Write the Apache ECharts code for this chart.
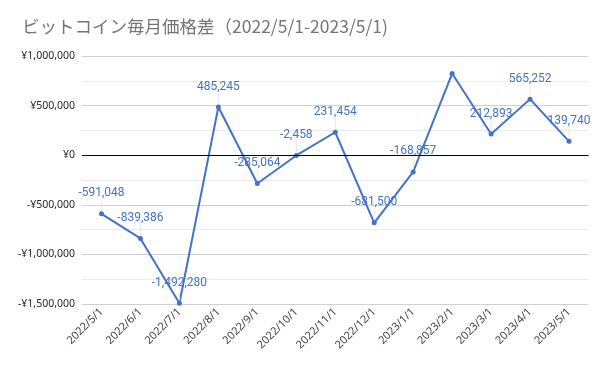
<!DOCTYPE html>
<html><head><meta charset="utf-8">
<script src="https://cdn.jsdelivr.net/npm/echarts@6/dist/echarts.min.js"></script>
<style>html,body{margin:0;padding:0;background:#fff}#c{width:607px;height:371px}</style>
</head><body><div id="c"></div>
<script>
var categories = ['2022/5/1','2022/6/1','2022/7/1','2022/8/1','2022/9/1','2022/10/1','2022/11/1','2022/12/1','2023/1/1','2023/2/1','2023/3/1','2023/4/1','2023/5/1'];
var values = [-591048, -839386, -1492280, 485245, -285064, -2458, 231454, -681500, -168857, 823000, 212893, 565252, 139740];
var hiddenLabels = [9];
var yTicks = {min: -1500000, max: 1000000, interval: 500000};

function fmtYen(v){
  var s = Math.abs(v).toLocaleString('en-US');
  return (v < 0 ? '-' : '') + '¥' + s;
}
var data = values.map(function(v, i){
  var d = {value: v};
  if (hiddenLabels.indexOf(i) >= 0) d.label = {show: false};
  return d;
});
var chart = echarts.init(document.getElementById('c'));
chart.setOption({
  animation: false,
  title: {
    text: 'ビットコイン毎月価格差（2022/5/1-2023/5/1)',
    left: 17, top: 13,
    textStyle: {fontFamily: 'Noto Sans CJK JP', fontSize: 17.5, fontWeight: 'normal', color: '#757575'}
  },
  grid: {left: 82, right: 18.5, top: 56, bottom: 67},
  xAxis: {
    type: 'category', data: categories, boundaryGap: true,
    axisLine: {onZero: false, show: false},
    axisTick: {show: false},
    axisLabel: {rotate: 45, fontSize: 11, color: '#404040', fontFamily: 'Noto Sans', margin: 6, interval: 0}
  },
  yAxis: {
    type: 'value', min: yTicks.min, max: yTicks.max, interval: yTicks.interval,
    axisLine: {show: false}, axisTick: {show: false},
    axisLabel: {formatter: fmtYen, fontSize: 10.5, color: '#262626', fontFamily: 'Noto Sans', margin: 7},
    splitLine: {lineStyle: {color: '#d0d0d0', width: 1}},
    minorTick: {show: false, splitNumber: 2},
    minorSplitLine: {show: true, lineStyle: {color: '#ebebeb', width: 1}}
  },
  series: [{
    type: 'line', data: data,
    symbol: 'circle', symbolSize: 5,
    itemStyle: {color: '#4472C4'},
    lineStyle: {color: '#4472C4', width: 2},
    label: {show: true, position: 'top', distance: 4, color: '#4472C4', fontSize: 12, fontFamily: 'Roboto',
      formatter: function(p){ return Number(p.value).toLocaleString('en-US'); }},
    labelLayout: {dy: -8},
    labelLine: {show: true, lineStyle: {color: '#e6e6e6', width: 1}},
    markLine: {
      silent: true, symbol: 'none', label: {show: false},
      lineStyle: {color: '#000', width: 1, type: 'solid'},
      data: [{yAxis: 0}]
    },
    z: 3
  }]
});
</script></body></html>
